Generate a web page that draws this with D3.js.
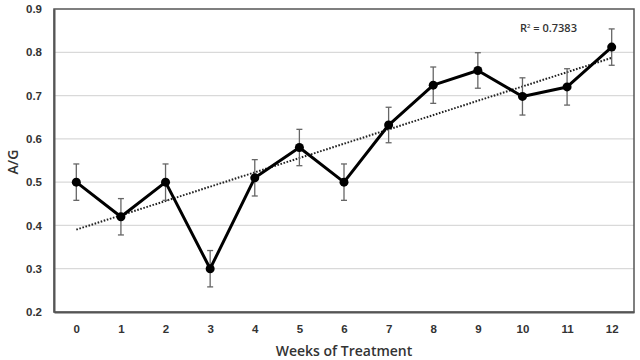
<!DOCTYPE html>
<html>
<head>
<meta charset="utf-8">
<script src="https://cdn.jsdelivr.net/npm/d3@7"></script>
<style>
  body { margin: 0; background: #fff; }
  svg { display: block; }
</style>
</head>
<body>
<div id="chart"></div>
<script>
const width = 640,
    height = 360;

// data
const weeks = [0, 1, 2, 3, 4, 5, 6, 7, 8, 9, 10, 11, 12];
const ratio = [0.50, 0.42, 0.50, 0.30, 0.51, 0.58, 0.50, 0.632, 0.724, 0.758, 0.698, 0.72, 0.812];
const errors = [0.042, 0.042, 0.042, 0.042, 0.042, 0.042, 0.042, 0.041, 0.042, 0.041, 0.043, 0.042, 0.042];
const yTicks = [0.2, 0.3, 0.4, 0.5, 0.6, 0.7, 0.8, 0.9];
const r2Label = "0.7383";

const margin = { top: 9, right: 6, bottom: 48, left: 54 };

const svg = d3.select("#chart")
    .append("svg")
    .attr("width", width)
    .attr("height", height)
    .style("font-family", "'Open Sans', sans-serif");

const x = d3.scalePoint()
    .domain(weeks)
    .range([margin.left, width - margin.right])
    .padding(0.5);

const y = d3.scaleLinear()
    .domain([0.2, 0.9])
    .range([height - margin.bottom, margin.top]);

// gridlines
svg.append("g")
    .selectAll("line")
    .data(yTicks.slice(1, -1))
    .enter()
    .append("line")
    .attr("x1", margin.left)
    .attr("x2", width - margin.right)
    .attr("y1", d => y(d))
    .attr("y2", d => y(d))
    .attr("stroke", "#d9d9d9")
    .attr("stroke-width", 1.2);

// frame
svg.append("rect")
    .attr("x", margin.left)
    .attr("y", margin.top)
    .attr("width", width - margin.right - margin.left)
    .attr("height", height - margin.bottom - margin.top)
    .attr("fill", "none")
    .attr("stroke", "#555")
    .attr("stroke-width", 1.5);

// y axis
const yAxis = d3.axisLeft(y)
    .tickValues(yTicks)
    .tickFormat(d3.format(".1f"))
    .tickSize(0)
    .tickPadding(12);

svg.append("g")
    .attr("transform", `translate(${margin.left},0)`)
    .call(yAxis)
    .call(g => g.select(".domain").attr("stroke", "#555").attr("stroke-width", 2))
    .selectAll("text")
    .attr("fill", "#333")
    .style("font-size", "11.5px")
    .style("font-weight", "600");

// x axis
const xAxis = d3.axisBottom(x)
    .tickSize(0)
    .tickPadding(13);

svg.append("g")
    .attr("transform", `translate(0,${height - margin.bottom})`)
    .call(xAxis)
    .call(g => g.select(".domain").attr("stroke", "#555").attr("stroke-width", 2))
    .selectAll("text")
    .attr("fill", "#333")
    .style("font-size", "11.5px")
    .style("font-weight", "600");

// axis titles
svg.append("text")
    .attr("x", (margin.left + width - margin.right) / 2)
    .attr("y", 356)
    .attr("text-anchor", "middle")
    .attr("fill", "#333")
    .style("font-size", "14px")
    .style("font-weight", "600")
    .text("Weeks of Treatment");

svg.append("text")
    .attr("transform", "translate(18,162) rotate(-90)")
    .attr("text-anchor", "middle")
    .attr("fill", "#333")
    .style("font-size", "14px")
    .style("font-weight", "600")
    .text("A/G");

// linear trendline (least squares on the series)
const meanX = d3.mean(weeks),
    meanY = d3.mean(ratio);
const slope = d3.sum(weeks, (w, i) => (w - meanX) * (ratio[i] - meanY)) /
    d3.sum(weeks, w => (w - meanX) * (w - meanX));
const intercept = meanY - slope * meanX;
const trendEnds = [weeks[0], weeks[weeks.length - 1]];

svg.append("line")
    .attr("x1", x(trendEnds[0]))
    .attr("y1", y(intercept + slope * trendEnds[0]))
    .attr("x2", x(trendEnds[1]))
    .attr("y2", y(intercept + slope * trendEnds[1]))
    .attr("stroke", "#222")
    .attr("stroke-width", 2)
    .attr("stroke-dasharray", "1.6,1.6");

// error bars
const errG = svg.append("g")
    .attr("stroke", "#666")
    .attr("stroke-width", 1.3)
    .selectAll("g")
    .data(weeks)
    .enter()
    .append("g");

errG.append("line")
    .attr("x1", d => x(d))
    .attr("x2", d => x(d))
    .attr("y1", (d, i) => y(ratio[i] + errors[i]))
    .attr("y2", (d, i) => y(ratio[i] - errors[i]));
errG.append("line")
    .attr("x1", d => x(d) - 3)
    .attr("x2", d => x(d) + 3)
    .attr("y1", (d, i) => y(ratio[i] + errors[i]))
    .attr("y2", (d, i) => y(ratio[i] + errors[i]));
errG.append("line")
    .attr("x1", d => x(d) - 3)
    .attr("x2", d => x(d) + 3)
    .attr("y1", (d, i) => y(ratio[i] - errors[i]))
    .attr("y2", (d, i) => y(ratio[i] - errors[i]));

// main line
const line = d3.line()
    .x(d => x(d))
    .y((d, i) => y(ratio[i]));

svg.append("path")
    .datum(weeks)
    .attr("fill", "none")
    .attr("stroke", "#000")
    .attr("stroke-width", 3)
    .attr("stroke-linejoin", "round")
    .attr("d", line);

svg.append("g")
    .selectAll("circle")
    .data(weeks)
    .enter()
    .append("circle")
    .attr("cx", d => x(d))
    .attr("cy", (d, i) => y(ratio[i]))
    .attr("r", 4.5)
    .attr("fill", "#000");

// R² label
const r2 = svg.append("text")
    .attr("x", 520)
    .attr("y", 32)
    .attr("fill", "#333")
    .style("font-size", "11px")
    .style("font-weight", "600");
r2.append("tspan").text("R");
r2.append("tspan").attr("dy", -4).style("font-size", "6px").text("2");
r2.append("tspan").attr("dy", 4).text(" = " + r2Label);
</script>
</body>
</html>
